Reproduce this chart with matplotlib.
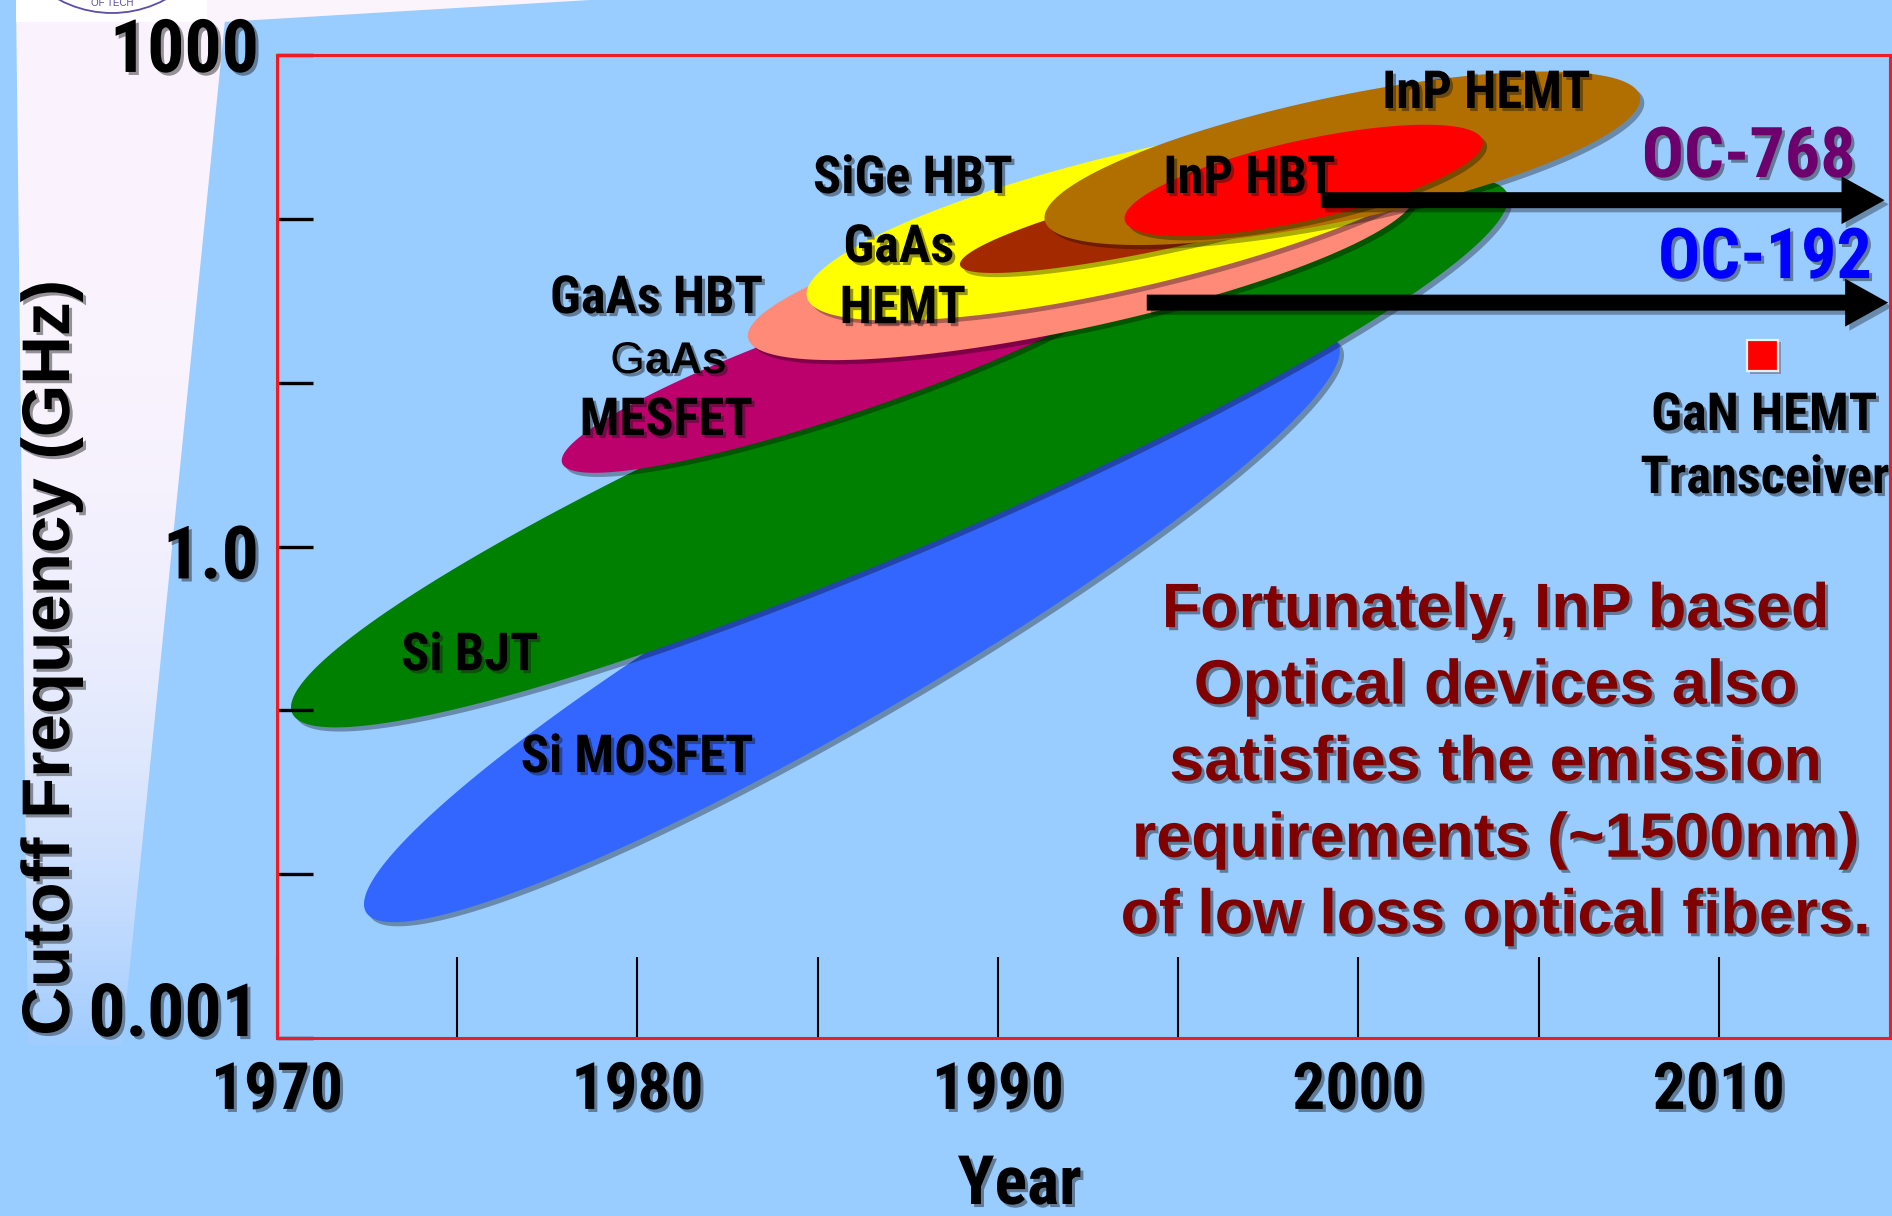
import numpy as np
import matplotlib
matplotlib.use("Agg")
import matplotlib.pyplot as plt
from matplotlib import patheffects as pe
from matplotlib import font_manager as fm
from matplotlib.patches import Polygon, Circle, Rectangle, FancyArrowPatch, ArrowStyle
from matplotlib.ticker import FixedLocator, NullLocator

# ------------------------------------------------------------------
# Data: cutoff-frequency ranges of transistor technologies over time
# Each band runs from (start_year, start_ghz) to (end_year, end_ghz);
# spread_dec is the band thickness expressed in decades of frequency.
# ------------------------------------------------------------------
tech_names = ["Si MOSFET", "Si BJT", "GaAs MESFET", "GaAs HBT",
              "GaAs HEMT", "SiGe HBT", "InP HEMT", "InP HBT"]
start_year = [1972.47, 1970.42, 1977.91, 1983.07, 1984.70, 1988.95, 1991.30, 1993.52]
start_ghz = [0.00586, 0.0962, 3.23, 18.7, 33.3, 52.2, 98.0, 98.0]
end_year = [1999.43, 2004.12, 1994.19, 2001.57, 2003.09, 2001.93, 2007.81, 2003.45]
end_ghz = [17.5, 143.7, 55.2, 146.0, 303.0, 238.0, 560.0, 300.0]
spread_dec = [1.075, 1.16, 0.586, 0.76, 0.818, 0.379, 0.757, 0.488]
tech_colors = ["#3366ff", "#008000", "#bc006c", "#ff8a78",
               "#ffff00", "#a32a00", "#b06f00", "#ff0000"]

# Technology labels (x = year of label centre, y = baseline frequency)
label_text = ["Si BJT", "Si MOSFET", "GaAs HBT", "MESFET", "SiGe HBT",
              "GaAs", "HEMT", "InP HBT", "InP HEMT", "GaN HEMT", "Transceiver"]
label_year = [1975.35, 1979.99, 1980.53, 1980.80, 1987.64,
              1987.25, 1987.36, 1996.98, 2003.55, 2011.26, 2011.28]
label_ghz = [0.176, 0.0420, 26.6, 4.79, 143.7,
             54.5, 23.1, 143.7, 474.8, 5.14, 2.12]
# Second line of the GaAs MESFET label (light "G", bold "aAs")
mesfet_gaas_year = 1980.21
mesfet_gaas_ghz = 11.45

# SONET rates drawn as arrows
sonet_names = ["OC-768", "OC-192"]
sonet_colors = ["#6e006e", "#0000ff"]
sonet_start_year = [1998.96, 1994.13]
sonet_end_year = [2014.6, 2014.7]
sonet_ghz = [130.0, 30.8]
sonet_label_year = [2010.83, 2011.28]
sonet_label_ghz = [180.0, 43.5]

# GaN HEMT transceiver point
gan_year = [2011.22]
gan_ghz = [14.7]

# Axis ticks
decade_years = [1970, 1980, 1990, 2000, 2010]
half_years = [1975, 1985, 1995, 2005]
freq_ticks = [1e-3, 1e-2, 1e-1, 1e0, 1e1, 1e2, 1e3]
freq_labels = {1e3: "1000", 1e0: "1.0", 1e-3: "0.001"}
freq_label_dy = {1e3: -12.2, 1e0: -23.0, 1e-3: 1.4}

note_lines = ["Fortunately, InP based", "Optical devices also",
              "satisfies the emission", "requirements (~1500nm)",
              "of low loss optical fibers."]
note_year = 2003.81
note_ghz = 0.322

# ------------------------------------------------------------------
BG = "#99ccff"
WIDE = "Liberation Sans"


def pick_condensed():
    """Return FontProperties for a narrow bold sans face, if one is installed."""
    wanted = ["Liberation Sans Narrow", "Arial Narrow", "Nimbus Sans Narrow",
              "Roboto Condensed", "Open Sans Condensed", "DejaVu Sans Condensed"]
    entries = fm.fontManager.ttflist
    for w in wanted:
        for f in entries:
            if f.name == w and str(f.weight) in ("bold", "700", "600") and f.style == "normal":
                return fm.FontProperties(fname=f.fname), 1.0
    for f in entries:
        low = f.fname.lower()
        if ("narrow" in low or "condensed" in low) and "bold" in low and "oblique" not in low \
                and "italic" not in low and "mono" not in low and "serif" not in low:
            return fm.FontProperties(fname=f.fname), 1.0
    return fm.FontProperties(family=WIDE, weight="bold"), 0.86


NARROW_FP, NSCALE = pick_condensed()


def nfont(size):
    fp = NARROW_FP.copy()
    fp.set_size(size * NSCALE)
    return fp


txt_shadow = [pe.withSimplePatchShadow(offset=(2.2, -2.2), shadow_rgbFace="#1a1a1a", alpha=0.45)]
patch_shadow = [pe.SimplePatchShadow(offset=(3.0, -3.0), shadow_rgbFace="#000000", alpha=0.32), pe.Normal()]

fig = plt.figure(figsize=(18.92, 12.16), dpi=100, facecolor=BG)

# ---- slide decoration behind the chart --------------------------
bg = fig.add_axes([0, 0, 1, 1], zorder=0)
bg.set_xlim(0, 1892)
bg.set_ylim(1216, 0)
bg.axis("off")

wedge = Polygon([(16, 0), (227, 0), (122, 1045), (28, 1045)], closed=True,
                facecolor="none", edgecolor="none")
bg.add_patch(wedge)
yy = np.linspace(0, 1, 400)[:, None]
top_c = np.array([251, 244, 253]) / 255.0
bot_c = np.array([160, 204, 255]) / 255.0
t = yy ** 3.6
grad = top_c[None, None, :] * (1 - t[..., None]) + bot_c[None, None, :] * t[..., None]
im = bg.imshow(grad, extent=(0, 240, 1045, 0), aspect="auto", zorder=1)
im.set_clip_path(wedge)

bg.add_patch(Polygon([(16, 0), (590, 0), (222, 22), (16, 22)], closed=True,
                     facecolor="#fbf4fd", edgecolor="none", zorder=1))
bg.add_patch(Rectangle((16, 0), 191, 22, facecolor="white", edgecolor="none", zorder=2))
bg.add_patch(Circle((112, -99), 112, facecolor="white", edgecolor="#5b4ea6", lw=1.3, zorder=3))
bg.text(112, 3, "OF TECH", ha="center", va="center", fontsize=7, color="#5b4ea6",
        family=WIDE, zorder=4)

# ---- main chart --------------------------------------------------
ax = fig.add_axes([277 / 1892, 1 - 1038 / 1216, 1613 / 1892, 983 / 1216], zorder=1)
ax.set_facecolor(BG)
ax.set_yscale("log")
ax.set_xlim(1970, 2014.75)
ax.set_ylim(1e-3, 1e3)
ax.set_axisbelow(False)

for sp in ax.spines.values():
    sp.set_color("#ee1c24")
    sp.set_linewidth(2.2)
    sp.set_zorder(8)
    sp.set_path_effects([pe.SimplePatchShadow(offset=(1.5, -2.5), shadow_rgbFace="#000000", alpha=0.18),
                         pe.Normal()])

ax.xaxis.set_major_locator(FixedLocator(decade_years))
ax.xaxis.set_minor_locator(FixedLocator(half_years))
ax.set_xticklabels([str(y) for y in decade_years])
ax.tick_params(axis="x", which="both", direction="in", length=58, width=1.5,
               color="black", pad=16.5)
for lab in ax.get_xticklabels():
    lab.set_fontproperties(nfont(47))
    lab.set_path_effects(txt_shadow)

ax.yaxis.set_major_locator(FixedLocator(freq_ticks))
ax.yaxis.set_minor_locator(NullLocator())
ax.tick_params(axis="y", which="major", direction="in", length=26, width=2.4,
               color="black", labelleft=False)

for v, s in freq_labels.items():
    ax.annotate(s, xy=(0, v), xycoords=("axes fraction", "data"),
                xytext=(-13, freq_label_dy[v]), textcoords="offset points",
                ha="right", va="baseline", fontproperties=nfont(53),
                color="black", annotation_clip=False, path_effects=txt_shadow)


def band_polygon(y0, f0, y1, f1, spread, n=300):
    """Ellipse between two (year, GHz) points, built in screen space."""
    p0 = ax.transData.transform((y0, f0))
    p1 = ax.transData.transform((y1, f1))
    dec = ax.transData.transform((y0, 10.0))[1] - ax.transData.transform((y0, 1.0))[1]
    c = (p0 + p1) / 2.0
    v = p1 - p0
    a = np.hypot(v[0], v[1]) / 2.0
    b = spread * dec / 2.0
    th = np.arctan2(v[1], v[0])
    tt = np.linspace(0, 2 * np.pi, n)
    xs = c[0] + a * np.cos(tt) * np.cos(th) - b * np.sin(tt) * np.sin(th)
    ys = c[1] + a * np.cos(tt) * np.sin(th) + b * np.sin(tt) * np.cos(th)
    return ax.transData.inverted().transform(np.column_stack([xs, ys]))


for i, name in enumerate(tech_names):
    verts = band_polygon(start_year[i], start_ghz[i], end_year[i], end_ghz[i], spread_dec[i])
    poly = Polygon(verts, closed=True, facecolor=tech_colors[i], edgecolor="none",
                   zorder=1 + 0.1 * i, label=name)
    poly.set_path_effects(patch_shadow)
    ax.add_patch(poly)

# SONET arrows
for i in range(len(sonet_names)):
    arr = FancyArrowPatch(posA=(sonet_start_year[i], sonet_ghz[i]),
                          posB=(sonet_end_year[i], sonet_ghz[i]),
                          arrowstyle=ArrowStyle.Simple(head_length=31, head_width=34.5, tail_width=11.5),
                          mutation_scale=1, shrinkA=0, shrinkB=0,
                          facecolor="black", edgecolor="none", lw=0, zorder=3)
    arr.set_path_effects(patch_shadow)
    arr.set_clip_on(False)
    ax.add_patch(arr)
    ax.annotate(sonet_names[i], (sonet_label_year[i], sonet_label_ghz[i]),
                ha="center", va="baseline", fontproperties=nfont(50.4),
                color=sonet_colors[i], zorder=6, annotation_clip=False,
                path_effects=txt_shadow)

# GaN HEMT transceiver point
ax.plot(gan_year, gan_ghz, linestyle="none", marker="s", markersize=22.5,
        markerfacecolor="#ff0000", markeredgecolor="#e6f2f2", markeredgewidth=1.6,
        zorder=4, path_effects=[pe.SimplePatchShadow(offset=(2, -2), alpha=0.3), pe.Normal()])

# Technology labels
for s, yr, f in zip(label_text, label_year, label_ghz):
    ax.annotate(s, (yr, f), ha="center", va="baseline", fontproperties=nfont(37.8),
                color="black", zorder=6, annotation_clip=False, path_effects=txt_shadow)

ax.annotate("G", (mesfet_gaas_year, mesfet_gaas_ghz), ha="right", va="baseline",
            fontsize=32, fontweight="normal", family=WIDE, color="black", zorder=6,
            path_effects=txt_shadow)
ax.annotate("aAs", (mesfet_gaas_year, mesfet_gaas_ghz), ha="left", va="baseline",
            fontsize=32, fontweight="bold", family=WIDE, color="black", zorder=6,
            path_effects=txt_shadow)

# Explanatory note
for i, line in enumerate(note_lines):
    ax.annotate(line, (note_year, note_ghz), xytext=(0, -55.1 * i), textcoords="offset points",
                ha="center", va="baseline", fontsize=45.2, fontweight="bold", family=WIDE,
                color="#800000", zorder=6, annotation_clip=False, path_effects=txt_shadow)

# Axis titles
fig.text(83 / 1892, 1 - 658 / 1216, "Cutoff Frequency (GHz)", rotation=90,
         ha="right", va="center", fontsize=48.5, fontweight="bold", family=WIDE,
         color="black", path_effects=txt_shadow, zorder=5)
fig.text(1019.5 / 1892, 1 - 1204 / 1216, "Year", ha="center", va="baseline",
         fontproperties=nfont(49), color="black", path_effects=txt_shadow, zorder=5)

fig.savefig("out.png", dpi=100, facecolor=BG)
